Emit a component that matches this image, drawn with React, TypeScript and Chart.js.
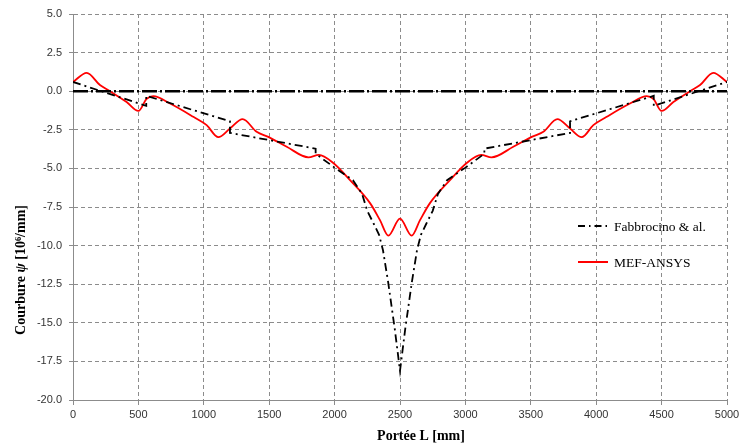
import React, { useEffect, useRef } from 'react';
import { Chart, registerables } from 'chart.js';

Chart.register(...registerables);

// Fabbrocino & al. (dash-dot black, with steps)
const fabX = [0, 560, 560, 1200, 1200, 1855, 1855, 2000, 2140, 2210, 2250, 2300, 2340, 2370, 2410, 2460, 2500, 2540, 2590, 2630, 2660, 2700, 2750, 2790, 2860, 3000, 3145, 3145, 3800, 3800, 4440, 4440, 5000];
const fabY = [0.6, -0.95, -0.3, -1.95, -2.7, -3.72, -4.05, -4.95, -5.76, -6.65, -7.75, -8.6, -9.3, -10.3, -12.4, -15.4, -18.1, -15.4, -12.4, -10.3, -9.3, -8.6, -7.75, -6.65, -5.76, -4.95, -4.05, -3.72, -2.7, -1.95, -0.3, -0.95, 0.6];

// MEF-ANSYS (red smooth curve)
const mefX = [0, 105, 206, 283, 410, 500, 563, 614, 742, 920, 1022, 1111, 1200, 1297, 1404, 1493, 1634, 1800, 1880, 1990, 2118, 2271, 2347, 2411, 2500, 2589, 2653, 2729, 2882, 3010, 3120, 3200, 3366, 3507, 3596, 3703, 3800, 3889, 3978, 4080, 4258, 4386, 4437, 4500, 4590, 4717, 4794, 4895, 5000];
const mefY = [0.6, 1.19, 0.4, 0.0, -0.7, -1.28, -0.5, -0.32, -0.8, -1.66, -2.2, -2.98, -2.42, -1.81, -2.63, -2.96, -3.6, -4.28, -4.12, -4.65, -5.76, -7.25, -8.35, -9.35, -8.25, -9.35, -8.35, -7.25, -5.76, -4.65, -4.12, -4.28, -3.6, -2.96, -2.63, -1.81, -2.42, -2.98, -2.2, -1.66, -0.8, -0.32, -0.5, -1.28, -0.7, 0.0, 0.4, 1.19, 0.6];

// Reference line at zero
const zeroX = [0, 5000];
const zeroY = [0, 0];

const legendLabels = ['Fabbrocino & al.', 'MEF-ANSYS'];
const xTitle = 'Portée L [mm]';
const yTitleParts = ['Courbure ', 'ψ', ' [10⁶/mm]'];

const toPts = (xs: number[], ys: number[]) => xs.map((x, i) => ({ x, y: ys[i] }));

const overlayPlugin = {
  id: 'overlay',
  afterDraw(chart: any) {
    const ctx = chart.ctx as CanvasRenderingContext2D;
    ctx.save();
    ctx.fillStyle = '#000';
    ctx.textBaseline = 'middle';
    // x title
    ctx.font = 'bold 14px "Liberation Serif"';
    ctx.textAlign = 'center';
    ctx.fillText(xTitle, 421, 436);
    // y title (rotated, with italic psi)
    ctx.save();
    ctx.translate(21, 270);
    ctx.rotate(-Math.PI / 2);
    const fonts = ['bold 14px "Liberation Serif"', 'italic bold 14px "Liberation Serif"', 'bold 14px "Liberation Serif"'];
    let total = 0;
    const widths = yTitleParts.map((t, i) => {
      ctx.font = fonts[i];
      const w = ctx.measureText(t).width;
      total += w;
      return w;
    });
    let cx = -total / 2;
    ctx.textAlign = 'left';
    yTitleParts.forEach((t, i) => {
      ctx.font = fonts[i];
      ctx.fillText(t, cx, 0);
      cx += widths[i];
    });
    ctx.restore();

    // legend
    const lx0 = 578, lx1 = 608, tx = 614;
    const rows = [226, 262];
    ctx.font = '13.5px "Liberation Serif"';
    ctx.textAlign = 'left';
    ctx.save();
    ctx.strokeStyle = '#000';
    ctx.lineWidth = 2;
    ctx.setLineDash([7, 4, 1.5, 4]);
    ctx.beginPath();
    ctx.moveTo(lx0, rows[0]);
    ctx.lineTo(lx1, rows[0]);
    ctx.stroke();
    ctx.restore();
    ctx.fillText(legendLabels[0], tx, rows[0] + 1);
    ctx.save();
    ctx.strokeStyle = '#ff0000';
    ctx.lineWidth = 2;
    ctx.beginPath();
    ctx.moveTo(lx0, rows[1]);
    ctx.lineTo(lx1, rows[1]);
    ctx.stroke();
    ctx.restore();
    ctx.fillText(legendLabels[1], tx, rows[1] + 1);
    ctx.restore();
  },
};

export default function App() {
  const ref = useRef<HTMLCanvasElement | null>(null);
  useEffect(() => {
    if (!ref.current) return;
    const chart = new Chart(ref.current, {
      type: 'line',
      data: {
        datasets: [
          {
            label: 'zero',
            data: toPts(zeroX, zeroY),
            borderColor: '#000',
            borderWidth: 2.6,
            borderDash: [15, 3, 2, 3],
            pointRadius: 0,
            tension: 0,
          },
          {
            label: legendLabels[0],
            data: toPts(fabX, fabY),
            borderColor: '#000',
            borderWidth: 1.8,
            borderDash: [8, 4, 2, 4],
            pointRadius: 0,
            tension: 0,
          },
          {
            label: legendLabels[1],
            data: toPts(mefX, mefY),
            borderColor: '#ff0000',
            borderWidth: 1.8,
            pointRadius: 0,
            cubicInterpolationMode: 'monotone',
          },
        ],
      },
      options: {
        animation: false,
        responsive: false,
        layout: { padding: { top: 14, right: 0, left: 0, bottom: 0 } },
        plugins: { legend: { display: false }, tooltip: { enabled: false } },
        scales: {
          x: {
            type: 'linear',
            min: 0,
            max: 5000,
            afterFit: (s: any) => { s.height = 46; s.paddingRight = 12; s.paddingLeft = 0; },
            ticks: { stepSize: 500, color: '#333', font: { family: '"Liberation Sans"', size: 11 }, padding: 3, maxRotation: 0, callback: (v: any) => String(v) },
            grid: { color: '#8c8c8c', tickLength: 5, tickColor: '#8c8c8c' },
            border: { color: '#8c8c8c', dash: [4, 3], width: 1 },
          },
          y: {
            type: 'linear',
            min: -20,
            max: 5,
            afterFit: (s: any) => { s.width = 73; },
            ticks: { stepSize: 2.5, color: '#333', font: { family: '"Liberation Sans"', size: 11 }, padding: 7, callback: (v: any) => Number(v).toFixed(1) },
            grid: { color: '#8c8c8c', tickLength: 4, tickColor: '#8c8c8c' },
            border: { color: '#8c8c8c', dash: [4, 3], width: 1 },
          },
        },
      },
      plugins: [overlayPlugin],
    } as any);
    return () => chart.destroy();
  }, []);
  return (
    <div style={{ position: 'absolute', left: 0, top: 0, width: 739, height: 446, background: '#fff' }}>
      <canvas ref={ref} width={739} height={446} />
    </div>
  );
}
